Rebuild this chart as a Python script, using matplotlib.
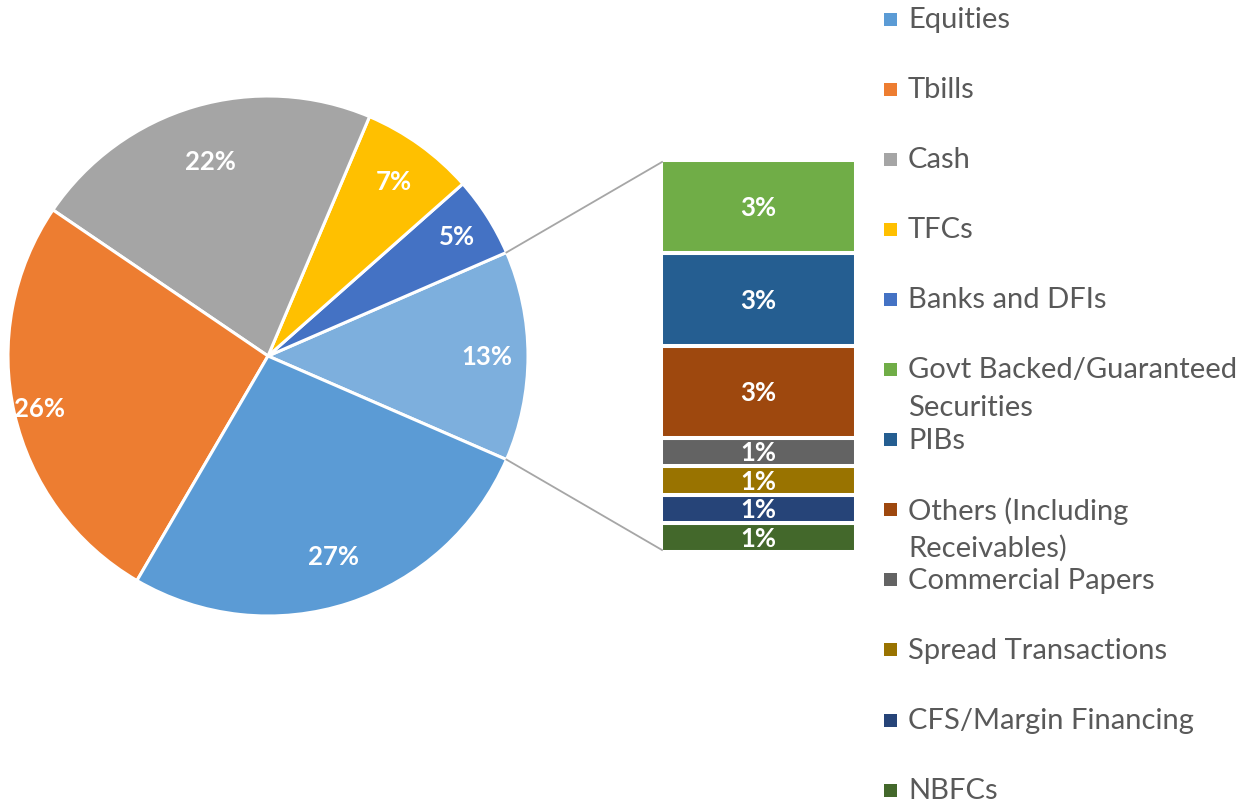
import numpy as np
import matplotlib
matplotlib.use("Agg")
import matplotlib.pyplot as plt
from matplotlib.patches import Rectangle

# ---- data ----
main_labels = ["Equities", "Tbills", "Cash", "TFCs", "Banks and DFIs"]
main_values = [26.9, 26.1, 21.9, 7.1, 5.0]
main_colors = ["#5B9BD5", "#ED7D31", "#A5A5A5", "#FFC000", "#4472C4"]
other_color = "#7DAFDD"

bar_labels = ["Govt Backed/Guaranteed\nSecurities", "PIBs", "Others (Including\nReceivables)",
              "Commercial Papers", "Spread Transactions", "CFS/Margin Financing", "NBFCs"]
bar_values = [3.1, 3.1, 3.05, 0.95, 0.95, 0.95, 0.95]
bar_colors = ["#70AD47", "#255E91", "#9E480E", "#636363", "#997300", "#264478", "#43682B"]

FONT = "Lato"
W, H = 1243, 804
fig = plt.figure(figsize=(W / 100, H / 100), dpi=100)
ax = fig.add_axes([0, 0, 1, 1])

def Y(y):
    return H - y

other_value = sum(bar_values)
total = sum(main_values) + other_value

# pie order counterclockwise starting with the "other" slice centred on the right
pie_vals = [other_value] + main_values[::-1]
pie_cols = [other_color] + main_colors[::-1]
start = -other_value / total * 360 / 2
cx, cy, R = 268, Y(357), 260
wedges, _ = ax.pie(pie_vals, colors=pie_cols, startangle=start, counterclock=True,
                   center=(cx, cy), radius=R,
                   wedgeprops=dict(edgecolor="white", linewidth=2.2))

# data labels
label_r = [0.84, 0.86, 0.83, 0.78, 0.90, 0.81]
for w, v, rf in zip(wedges, pie_vals, label_r):
    a = np.deg2rad((w.theta1 + w.theta2) / 2)
    ax.text(cx + rf * R * np.cos(a), cy + rf * R * np.sin(a), f"{v / total * 100:.0f}%",
            ha="center", va="center", color="white", fontsize=18.5, fontweight="bold",
            family=FONT)

# bar of pie
bx0, bx1 = 662, 855
btop, bbot = 161, 553
scale = (bbot - btop) / other_value
bottom = Y(bbot)
bar_order = list(range(len(bar_values)))[::-1]
for i in bar_order:
    h = bar_values[i] * scale
    ax.bar((bx0 + bx1) / 2, h, width=bx1 - bx0 + 2, bottom=bottom, color=bar_colors[i],
           edgecolor="white", linewidth=2.9)
    ax.text((bx0 + bx1) / 2, bottom + h / 2, f"{bar_values[i] / total * 100:.0f}%",
            ha="center", va="center", color="white", fontsize=18.5, fontweight="bold",
            family=FONT)
    bottom += h

# connector lines
half = np.deg2rad(other_value / total * 360 / 2)
ax.plot([cx + R * np.cos(half), bx0], [cy + R * np.sin(half), Y(btop + 2)],
        color="#A6A6A6", lw=1.3)
ax.plot([cx + R * np.cos(-half), bx0], [cy + R * np.sin(-half), Y(bbot - 2)],
        color="#A6A6A6", lw=1.3)

# legend
leg_labels = main_labels + bar_labels
leg_colors = main_colors + bar_colors
for k, (lab, col) in enumerate(zip(leg_labels, leg_colors)):
    yc = 20 + k * 70.1
    ax.add_patch(Rectangle((884, Y(yc) - 6.5), 13, 13, color=col, lw=0))
    for j, line in enumerate(lab.split("\n")):
        ax.text(908, Y(yc + j * 38), line, ha="left", va="center", color="#595959",
                fontsize=21, family=FONT)

ax.set_xlim(0, W)
ax.set_ylim(0, H)
ax.set_aspect("auto")
ax.axis("off")
fig.savefig("out.png", dpi=100)
